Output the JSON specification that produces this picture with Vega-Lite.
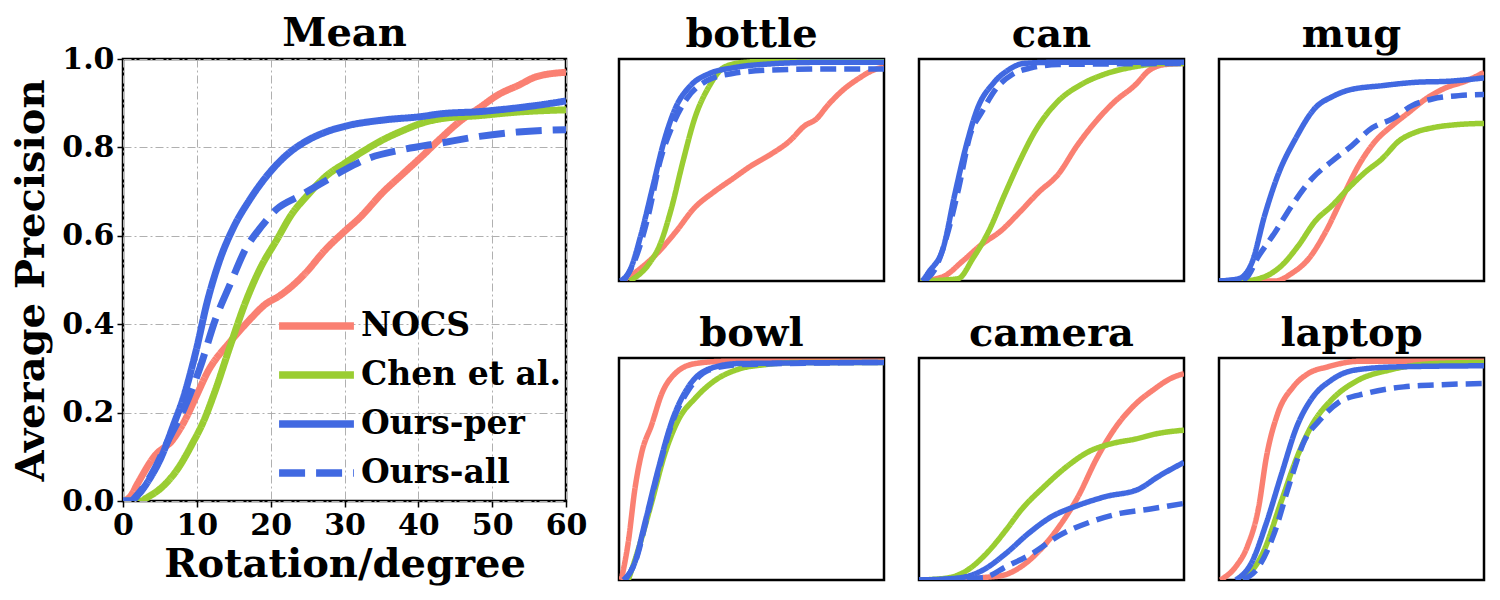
{
  "$schema": "https://vega.github.io/schema/vega-lite/v6.json",
  "padding": {"left": 10, "top": 12, "right": 5, "bottom": 2},
  "datasets": {
    "curves": [
      {"panel": "Mean", "method": "NOCS", "rotation": 0, "ap": 0},
      {"panel": "Mean", "method": "NOCS", "rotation": 1, "ap": 0.01},
      {"panel": "Mean", "method": "NOCS", "rotation": 2, "ap": 0.04},
      {"panel": "Mean", "method": "NOCS", "rotation": 4.2, "ap": 0.1},
      {"panel": "Mean", "method": "NOCS", "rotation": 6.8, "ap": 0.14},
      {"panel": "Mean", "method": "NOCS", "rotation": 8.3, "ap": 0.18},
      {"panel": "Mean", "method": "NOCS", "rotation": 10, "ap": 0.24},
      {"panel": "Mean", "method": "NOCS", "rotation": 11.4, "ap": 0.29},
      {"panel": "Mean", "method": "NOCS", "rotation": 14.5, "ap": 0.36},
      {"panel": "Mean", "method": "NOCS", "rotation": 16.6, "ap": 0.4},
      {"panel": "Mean", "method": "NOCS", "rotation": 19.7, "ap": 0.45},
      {"panel": "Mean", "method": "NOCS", "rotation": 20.8, "ap": 0.46},
      {"panel": "Mean", "method": "NOCS", "rotation": 24.4, "ap": 0.51},
      {"panel": "Mean", "method": "NOCS", "rotation": 27.5, "ap": 0.57},
      {"panel": "Mean", "method": "NOCS", "rotation": 30, "ap": 0.61},
      {"panel": "Mean", "method": "NOCS", "rotation": 32, "ap": 0.64},
      {"panel": "Mean", "method": "NOCS", "rotation": 35.3, "ap": 0.7},
      {"panel": "Mean", "method": "NOCS", "rotation": 37.9, "ap": 0.74},
      {"panel": "Mean", "method": "NOCS", "rotation": 40.5, "ap": 0.78},
      {"panel": "Mean", "method": "NOCS", "rotation": 43, "ap": 0.82},
      {"panel": "Mean", "method": "NOCS", "rotation": 45.7, "ap": 0.86},
      {"panel": "Mean", "method": "NOCS", "rotation": 48.3, "ap": 0.89},
      {"panel": "Mean", "method": "NOCS", "rotation": 50.9, "ap": 0.92},
      {"panel": "Mean", "method": "NOCS", "rotation": 53.5, "ap": 0.94},
      {"panel": "Mean", "method": "NOCS", "rotation": 56, "ap": 0.96},
      {"panel": "Mean", "method": "NOCS", "rotation": 60, "ap": 0.97},

      {"panel": "Mean", "method": "Chen et al.", "rotation": 0, "ap": 0},
      {"panel": "Mean", "method": "Chen et al.", "rotation": 2.5, "ap": 0},
      {"panel": "Mean", "method": "Chen et al.", "rotation": 3.1, "ap": 0.006},
      {"panel": "Mean", "method": "Chen et al.", "rotation": 5.2, "ap": 0.03},
      {"panel": "Mean", "method": "Chen et al.", "rotation": 7.3, "ap": 0.07},
      {"panel": "Mean", "method": "Chen et al.", "rotation": 9.4, "ap": 0.13},
      {"panel": "Mean", "method": "Chen et al.", "rotation": 10.9, "ap": 0.18},
      {"panel": "Mean", "method": "Chen et al.", "rotation": 12.5, "ap": 0.25},
      {"panel": "Mean", "method": "Chen et al.", "rotation": 14.5, "ap": 0.35},
      {"panel": "Mean", "method": "Chen et al.", "rotation": 16.6, "ap": 0.45},
      {"panel": "Mean", "method": "Chen et al.", "rotation": 18.7, "ap": 0.53},
      {"panel": "Mean", "method": "Chen et al.", "rotation": 20.8, "ap": 0.59},
      {"panel": "Mean", "method": "Chen et al.", "rotation": 22.9, "ap": 0.65},
      {"panel": "Mean", "method": "Chen et al.", "rotation": 24.9, "ap": 0.69},
      {"panel": "Mean", "method": "Chen et al.", "rotation": 27.5, "ap": 0.735},
      {"panel": "Mean", "method": "Chen et al.", "rotation": 30.1, "ap": 0.765},
      {"panel": "Mean", "method": "Chen et al.", "rotation": 32.7, "ap": 0.793},
      {"panel": "Mean", "method": "Chen et al.", "rotation": 35.3, "ap": 0.818},
      {"panel": "Mean", "method": "Chen et al.", "rotation": 37.9, "ap": 0.838},
      {"panel": "Mean", "method": "Chen et al.", "rotation": 40.5, "ap": 0.855},
      {"panel": "Mean", "method": "Chen et al.", "rotation": 43.1, "ap": 0.865},
      {"panel": "Mean", "method": "Chen et al.", "rotation": 48.3, "ap": 0.872},
      {"panel": "Mean", "method": "Chen et al.", "rotation": 53.5, "ap": 0.88},
      {"panel": "Mean", "method": "Chen et al.", "rotation": 60, "ap": 0.885},

      {"panel": "Mean", "method": "Ours-per", "rotation": 0, "ap": 0},
      {"panel": "Mean", "method": "Ours-per", "rotation": 1, "ap": 0},
      {"panel": "Mean", "method": "Ours-per", "rotation": 2.1, "ap": 0.015},
      {"panel": "Mean", "method": "Ours-per", "rotation": 3.6, "ap": 0.05},
      {"panel": "Mean", "method": "Ours-per", "rotation": 5.2, "ap": 0.1},
      {"panel": "Mean", "method": "Ours-per", "rotation": 6.8, "ap": 0.17},
      {"panel": "Mean", "method": "Ours-per", "rotation": 8.3, "ap": 0.24},
      {"panel": "Mean", "method": "Ours-per", "rotation": 9.9, "ap": 0.34},
      {"panel": "Mean", "method": "Ours-per", "rotation": 11.4, "ap": 0.45},
      {"panel": "Mean", "method": "Ours-per", "rotation": 13, "ap": 0.54},
      {"panel": "Mean", "method": "Ours-per", "rotation": 15, "ap": 0.62},
      {"panel": "Mean", "method": "Ours-per", "rotation": 17.1, "ap": 0.68},
      {"panel": "Mean", "method": "Ours-per", "rotation": 19.7, "ap": 0.74},
      {"panel": "Mean", "method": "Ours-per", "rotation": 22.3, "ap": 0.785},
      {"panel": "Mean", "method": "Ours-per", "rotation": 24.9, "ap": 0.815},
      {"panel": "Mean", "method": "Ours-per", "rotation": 27.5, "ap": 0.835},
      {"panel": "Mean", "method": "Ours-per", "rotation": 30.1, "ap": 0.848},
      {"panel": "Mean", "method": "Ours-per", "rotation": 35.3, "ap": 0.862},
      {"panel": "Mean", "method": "Ours-per", "rotation": 40.5, "ap": 0.87},
      {"panel": "Mean", "method": "Ours-per", "rotation": 43, "ap": 0.876},
      {"panel": "Mean", "method": "Ours-per", "rotation": 48.3, "ap": 0.881},
      {"panel": "Mean", "method": "Ours-per", "rotation": 50.9, "ap": 0.885},
      {"panel": "Mean", "method": "Ours-per", "rotation": 56, "ap": 0.895},
      {"panel": "Mean", "method": "Ours-per", "rotation": 60, "ap": 0.905},

      {"panel": "Mean", "method": "Ours-all", "rotation": 0, "ap": 0},
      {"panel": "Mean", "method": "Ours-all", "rotation": 1, "ap": 0},
      {"panel": "Mean", "method": "Ours-all", "rotation": 2, "ap": 0.015},
      {"panel": "Mean", "method": "Ours-all", "rotation": 4.2, "ap": 0.07},
      {"panel": "Mean", "method": "Ours-all", "rotation": 6.2, "ap": 0.14},
      {"panel": "Mean", "method": "Ours-all", "rotation": 8.3, "ap": 0.21},
      {"panel": "Mean", "method": "Ours-all", "rotation": 10.4, "ap": 0.3},
      {"panel": "Mean", "method": "Ours-all", "rotation": 12.5, "ap": 0.41},
      {"panel": "Mean", "method": "Ours-all", "rotation": 14.5, "ap": 0.49},
      {"panel": "Mean", "method": "Ours-all", "rotation": 16.6, "ap": 0.57},
      {"panel": "Mean", "method": "Ours-all", "rotation": 18.7, "ap": 0.62},
      {"panel": "Mean", "method": "Ours-all", "rotation": 20.8, "ap": 0.66},
      {"panel": "Mean", "method": "Ours-all", "rotation": 23.9, "ap": 0.69},
      {"panel": "Mean", "method": "Ours-all", "rotation": 27, "ap": 0.72},
      {"panel": "Mean", "method": "Ours-all", "rotation": 30.1, "ap": 0.75},
      {"panel": "Mean", "method": "Ours-all", "rotation": 33.2, "ap": 0.775},
      {"panel": "Mean", "method": "Ours-all", "rotation": 37.9, "ap": 0.795},
      {"panel": "Mean", "method": "Ours-all", "rotation": 43.1, "ap": 0.81},
      {"panel": "Mean", "method": "Ours-all", "rotation": 48.3, "ap": 0.825},
      {"panel": "Mean", "method": "Ours-all", "rotation": 53.5, "ap": 0.835},
      {"panel": "Mean", "method": "Ours-all", "rotation": 60, "ap": 0.84},

      {"panel": "bottle", "method": "NOCS", "rotation": 0.7, "ap": 0},
      {"panel": "bottle", "method": "NOCS", "rotation": 4.1, "ap": 0.045},
      {"panel": "bottle", "method": "NOCS", "rotation": 8.4, "ap": 0.12},
      {"panel": "bottle", "method": "NOCS", "rotation": 12.8, "ap": 0.22},
      {"panel": "bottle", "method": "NOCS", "rotation": 17.1, "ap": 0.33},
      {"panel": "bottle", "method": "NOCS", "rotation": 21.4, "ap": 0.4},
      {"panel": "bottle", "method": "NOCS", "rotation": 25.7, "ap": 0.46},
      {"panel": "bottle", "method": "NOCS", "rotation": 30, "ap": 0.52},
      {"panel": "bottle", "method": "NOCS", "rotation": 34.3, "ap": 0.57},
      {"panel": "bottle", "method": "NOCS", "rotation": 38.6, "ap": 0.63},
      {"panel": "bottle", "method": "NOCS", "rotation": 42.1, "ap": 0.7},
      {"panel": "bottle", "method": "NOCS", "rotation": 44.7, "ap": 0.73},
      {"panel": "bottle", "method": "NOCS", "rotation": 47.2, "ap": 0.79},
      {"panel": "bottle", "method": "NOCS", "rotation": 50.7, "ap": 0.86},
      {"panel": "bottle", "method": "NOCS", "rotation": 54.1, "ap": 0.91},
      {"panel": "bottle", "method": "NOCS", "rotation": 57.6, "ap": 0.95},
      {"panel": "bottle", "method": "NOCS", "rotation": 60, "ap": 0.965},

      {"panel": "bottle", "method": "Chen et al.", "rotation": 2.4, "ap": 0},
      {"panel": "bottle", "method": "Chen et al.", "rotation": 6.7, "ap": 0.075},
      {"panel": "bottle", "method": "Chen et al.", "rotation": 9.3, "ap": 0.165},
      {"panel": "bottle", "method": "Chen et al.", "rotation": 11.9, "ap": 0.33},
      {"panel": "bottle", "method": "Chen et al.", "rotation": 14.5, "ap": 0.54},
      {"panel": "bottle", "method": "Chen et al.", "rotation": 17.1, "ap": 0.73},
      {"panel": "bottle", "method": "Chen et al.", "rotation": 20.5, "ap": 0.88},
      {"panel": "bottle", "method": "Chen et al.", "rotation": 24, "ap": 0.965},
      {"panel": "bottle", "method": "Chen et al.", "rotation": 28.3, "ap": 0.985},
      {"panel": "bottle", "method": "Chen et al.", "rotation": 34, "ap": 0.99},
      {"panel": "bottle", "method": "Chen et al.", "rotation": 60, "ap": 0.99},

      {"panel": "bottle", "method": "Ours-per", "rotation": 0.3, "ap": 0},
      {"panel": "bottle", "method": "Ours-per", "rotation": 2.4, "ap": 0.045},
      {"panel": "bottle", "method": "Ours-per", "rotation": 5, "ap": 0.21},
      {"panel": "bottle", "method": "Ours-per", "rotation": 7.6, "ap": 0.42},
      {"panel": "bottle", "method": "Ours-per", "rotation": 10.2, "ap": 0.63},
      {"panel": "bottle", "method": "Ours-per", "rotation": 12.8, "ap": 0.78},
      {"panel": "bottle", "method": "Ours-per", "rotation": 16.2, "ap": 0.88},
      {"panel": "bottle", "method": "Ours-per", "rotation": 20.5, "ap": 0.935},
      {"panel": "bottle", "method": "Ours-per", "rotation": 25.7, "ap": 0.96},
      {"panel": "bottle", "method": "Ours-per", "rotation": 34.3, "ap": 0.978},
      {"panel": "bottle", "method": "Ours-per", "rotation": 45, "ap": 0.985},
      {"panel": "bottle", "method": "Ours-per", "rotation": 60, "ap": 0.985},

      {"panel": "bottle", "method": "Ours-all", "rotation": 1.1, "ap": 0},
      {"panel": "bottle", "method": "Ours-all", "rotation": 4.1, "ap": 0.12},
      {"panel": "bottle", "method": "Ours-all", "rotation": 6.7, "ap": 0.3},
      {"panel": "bottle", "method": "Ours-all", "rotation": 9.3, "ap": 0.54},
      {"panel": "bottle", "method": "Ours-all", "rotation": 11.9, "ap": 0.69},
      {"panel": "bottle", "method": "Ours-all", "rotation": 15.3, "ap": 0.82},
      {"panel": "bottle", "method": "Ours-all", "rotation": 19.7, "ap": 0.9},
      {"panel": "bottle", "method": "Ours-all", "rotation": 25.7, "ap": 0.935},
      {"panel": "bottle", "method": "Ours-all", "rotation": 34.3, "ap": 0.95},
      {"panel": "bottle", "method": "Ours-all", "rotation": 47.2, "ap": 0.955},
      {"panel": "bottle", "method": "Ours-all", "rotation": 60, "ap": 0.955},

      {"panel": "can", "method": "NOCS", "rotation": 0.3, "ap": 0},
      {"panel": "can", "method": "NOCS", "rotation": 5.5, "ap": 0.02},
      {"panel": "can", "method": "NOCS", "rotation": 9.9, "ap": 0.09},
      {"panel": "can", "method": "NOCS", "rotation": 14.2, "ap": 0.165},
      {"panel": "can", "method": "NOCS", "rotation": 18.5, "ap": 0.225},
      {"panel": "can", "method": "NOCS", "rotation": 22.8, "ap": 0.31},
      {"panel": "can", "method": "NOCS", "rotation": 27.1, "ap": 0.4},
      {"panel": "can", "method": "NOCS", "rotation": 31.5, "ap": 0.48},
      {"panel": "can", "method": "NOCS", "rotation": 35.8, "ap": 0.61},
      {"panel": "can", "method": "NOCS", "rotation": 40.1, "ap": 0.72},
      {"panel": "can", "method": "NOCS", "rotation": 44.4, "ap": 0.81},
      {"panel": "can", "method": "NOCS", "rotation": 48.8, "ap": 0.88},
      {"panel": "can", "method": "NOCS", "rotation": 52.2, "ap": 0.95},
      {"panel": "can", "method": "NOCS", "rotation": 55.7, "ap": 0.975},
      {"panel": "can", "method": "NOCS", "rotation": 60, "ap": 0.98},

      {"panel": "can", "method": "Chen et al.", "rotation": 0.3, "ap": 0},
      {"panel": "can", "method": "Chen et al.", "rotation": 8.8, "ap": 0.01},
      {"panel": "can", "method": "Chen et al.", "rotation": 12.3, "ap": 0.105},
      {"panel": "can", "method": "Chen et al.", "rotation": 15.8, "ap": 0.225},
      {"panel": "can", "method": "Chen et al.", "rotation": 19.4, "ap": 0.39},
      {"panel": "can", "method": "Chen et al.", "rotation": 22.8, "ap": 0.54},
      {"panel": "can", "method": "Chen et al.", "rotation": 26.3, "ap": 0.675},
      {"panel": "can", "method": "Chen et al.", "rotation": 31.5, "ap": 0.81},
      {"panel": "can", "method": "Chen et al.", "rotation": 36.7, "ap": 0.885},
      {"panel": "can", "method": "Chen et al.", "rotation": 41.8, "ap": 0.93},
      {"panel": "can", "method": "Chen et al.", "rotation": 48.8, "ap": 0.965},
      {"panel": "can", "method": "Chen et al.", "rotation": 55.5, "ap": 0.98},
      {"panel": "can", "method": "Chen et al.", "rotation": 60, "ap": 0.98},

      {"panel": "can", "method": "Ours-per", "rotation": 0.8, "ap": 0},
      {"panel": "can", "method": "Ours-per", "rotation": 2.2, "ap": 0.04},
      {"panel": "can", "method": "Ours-per", "rotation": 5.5, "ap": 0.15},
      {"panel": "can", "method": "Ours-per", "rotation": 8.1, "ap": 0.39},
      {"panel": "can", "method": "Ours-per", "rotation": 10.7, "ap": 0.61},
      {"panel": "can", "method": "Ours-per", "rotation": 13.3, "ap": 0.78},
      {"panel": "can", "method": "Ours-per", "rotation": 16.8, "ap": 0.89},
      {"panel": "can", "method": "Ours-per", "rotation": 20.2, "ap": 0.95},
      {"panel": "can", "method": "Ours-per", "rotation": 23.7, "ap": 0.98},
      {"panel": "can", "method": "Ours-per", "rotation": 30, "ap": 0.985},
      {"panel": "can", "method": "Ours-per", "rotation": 60, "ap": 0.985},

      {"panel": "can", "method": "Ours-all", "rotation": 1.2, "ap": 0},
      {"panel": "can", "method": "Ours-all", "rotation": 3.8, "ap": 0.06},
      {"panel": "can", "method": "Ours-all", "rotation": 6.4, "ap": 0.21},
      {"panel": "can", "method": "Ours-all", "rotation": 9, "ap": 0.42},
      {"panel": "can", "method": "Ours-all", "rotation": 11.6, "ap": 0.66},
      {"panel": "can", "method": "Ours-all", "rotation": 14.2, "ap": 0.76},
      {"panel": "can", "method": "Ours-all", "rotation": 17.6, "ap": 0.87},
      {"panel": "can", "method": "Ours-all", "rotation": 21.1, "ap": 0.93},
      {"panel": "can", "method": "Ours-all", "rotation": 25.4, "ap": 0.96},
      {"panel": "can", "method": "Ours-all", "rotation": 31.5, "ap": 0.975},
      {"panel": "can", "method": "Ours-all", "rotation": 60, "ap": 0.98},

      {"panel": "mug", "method": "NOCS", "rotation": 0, "ap": 0},
      {"panel": "mug", "method": "NOCS", "rotation": 12.7, "ap": 0},
      {"panel": "mug", "method": "NOCS", "rotation": 16.5, "ap": 0.035},
      {"panel": "mug", "method": "NOCS", "rotation": 20.3, "ap": 0.1},
      {"panel": "mug", "method": "NOCS", "rotation": 24.1, "ap": 0.22},
      {"panel": "mug", "method": "NOCS", "rotation": 27.8, "ap": 0.37},
      {"panel": "mug", "method": "NOCS", "rotation": 31.6, "ap": 0.52},
      {"panel": "mug", "method": "NOCS", "rotation": 35.4, "ap": 0.63},
      {"panel": "mug", "method": "NOCS", "rotation": 39.2, "ap": 0.7},
      {"panel": "mug", "method": "NOCS", "rotation": 43, "ap": 0.76},
      {"panel": "mug", "method": "NOCS", "rotation": 46.8, "ap": 0.82},
      {"panel": "mug", "method": "NOCS", "rotation": 51.3, "ap": 0.87},
      {"panel": "mug", "method": "NOCS", "rotation": 55.8, "ap": 0.9},
      {"panel": "mug", "method": "NOCS", "rotation": 60, "ap": 0.94},

      {"panel": "mug", "method": "Chen et al.", "rotation": 0, "ap": 0},
      {"panel": "mug", "method": "Chen et al.", "rotation": 5.1, "ap": 0},
      {"panel": "mug", "method": "Chen et al.", "rotation": 10.4, "ap": 0.02},
      {"panel": "mug", "method": "Chen et al.", "rotation": 14.2, "ap": 0.07},
      {"panel": "mug", "method": "Chen et al.", "rotation": 18, "ap": 0.16},
      {"panel": "mug", "method": "Chen et al.", "rotation": 21.8, "ap": 0.27},
      {"panel": "mug", "method": "Chen et al.", "rotation": 25.6, "ap": 0.34},
      {"panel": "mug", "method": "Chen et al.", "rotation": 29.4, "ap": 0.42},
      {"panel": "mug", "method": "Chen et al.", "rotation": 33.1, "ap": 0.49},
      {"panel": "mug", "method": "Chen et al.", "rotation": 36.9, "ap": 0.55},
      {"panel": "mug", "method": "Chen et al.", "rotation": 40.7, "ap": 0.63},
      {"panel": "mug", "method": "Chen et al.", "rotation": 44.5, "ap": 0.67},
      {"panel": "mug", "method": "Chen et al.", "rotation": 48.3, "ap": 0.69},
      {"panel": "mug", "method": "Chen et al.", "rotation": 54.3, "ap": 0.705},
      {"panel": "mug", "method": "Chen et al.", "rotation": 60, "ap": 0.71},

      {"panel": "mug", "method": "Ours-per", "rotation": 0, "ap": 0},
      {"panel": "mug", "method": "Ours-per", "rotation": 4.4, "ap": 0.01},
      {"panel": "mug", "method": "Ours-per", "rotation": 7.4, "ap": 0.08},
      {"panel": "mug", "method": "Ours-per", "rotation": 10.4, "ap": 0.3},
      {"panel": "mug", "method": "Ours-per", "rotation": 13.4, "ap": 0.48},
      {"panel": "mug", "method": "Ours-per", "rotation": 17.3, "ap": 0.64},
      {"panel": "mug", "method": "Ours-per", "rotation": 21.8, "ap": 0.78},
      {"panel": "mug", "method": "Ours-per", "rotation": 25.6, "ap": 0.83},
      {"panel": "mug", "method": "Ours-per", "rotation": 29.4, "ap": 0.86},
      {"panel": "mug", "method": "Ours-per", "rotation": 37, "ap": 0.88},
      {"panel": "mug", "method": "Ours-per", "rotation": 44.5, "ap": 0.895},
      {"panel": "mug", "method": "Ours-per", "rotation": 52.1, "ap": 0.9},
      {"panel": "mug", "method": "Ours-per", "rotation": 60, "ap": 0.915},

      {"panel": "mug", "method": "Ours-all", "rotation": 0, "ap": 0},
      {"panel": "mug", "method": "Ours-all", "rotation": 5.9, "ap": 0.01},
      {"panel": "mug", "method": "Ours-all", "rotation": 8.9, "ap": 0.11},
      {"panel": "mug", "method": "Ours-all", "rotation": 12.7, "ap": 0.22},
      {"panel": "mug", "method": "Ours-all", "rotation": 16.5, "ap": 0.34},
      {"panel": "mug", "method": "Ours-all", "rotation": 21, "ap": 0.46},
      {"panel": "mug", "method": "Ours-all", "rotation": 25.6, "ap": 0.54},
      {"panel": "mug", "method": "Ours-all", "rotation": 30.1, "ap": 0.61},
      {"panel": "mug", "method": "Ours-all", "rotation": 34.7, "ap": 0.69},
      {"panel": "mug", "method": "Ours-all", "rotation": 39.2, "ap": 0.73},
      {"panel": "mug", "method": "Ours-all", "rotation": 43.7, "ap": 0.79},
      {"panel": "mug", "method": "Ours-all", "rotation": 48.3, "ap": 0.82},
      {"panel": "mug", "method": "Ours-all", "rotation": 54.3, "ap": 0.835},
      {"panel": "mug", "method": "Ours-all", "rotation": 60, "ap": 0.84},

      {"panel": "bowl", "method": "NOCS", "rotation": 0.5, "ap": 0},
      {"panel": "bowl", "method": "NOCS", "rotation": 2.1, "ap": 0.17},
      {"panel": "bowl", "method": "NOCS", "rotation": 3.6, "ap": 0.41},
      {"panel": "bowl", "method": "NOCS", "rotation": 5.1, "ap": 0.57},
      {"panel": "bowl", "method": "NOCS", "rotation": 7.4, "ap": 0.7},
      {"panel": "bowl", "method": "NOCS", "rotation": 9.7, "ap": 0.84},
      {"panel": "bowl", "method": "NOCS", "rotation": 12.7, "ap": 0.93},
      {"panel": "bowl", "method": "NOCS", "rotation": 17.3, "ap": 0.975},
      {"panel": "bowl", "method": "NOCS", "rotation": 24, "ap": 0.985},
      {"panel": "bowl", "method": "NOCS", "rotation": 60, "ap": 0.985},

      {"panel": "bowl", "method": "Chen et al.", "rotation": 2.1, "ap": 0},
      {"panel": "bowl", "method": "Chen et al.", "rotation": 4.4, "ap": 0.14},
      {"panel": "bowl", "method": "Chen et al.", "rotation": 7.4, "ap": 0.35},
      {"panel": "bowl", "method": "Chen et al.", "rotation": 10.4, "ap": 0.57},
      {"panel": "bowl", "method": "Chen et al.", "rotation": 13.4, "ap": 0.72},
      {"panel": "bowl", "method": "Chen et al.", "rotation": 17.3, "ap": 0.82},
      {"panel": "bowl", "method": "Chen et al.", "rotation": 21.8, "ap": 0.9},
      {"panel": "bowl", "method": "Chen et al.", "rotation": 27.1, "ap": 0.95},
      {"panel": "bowl", "method": "Chen et al.", "rotation": 33.1, "ap": 0.97},
      {"panel": "bowl", "method": "Chen et al.", "rotation": 40.6, "ap": 0.98},
      {"panel": "bowl", "method": "Chen et al.", "rotation": 60, "ap": 0.98},

      {"panel": "bowl", "method": "Ours-per", "rotation": 1, "ap": 0},
      {"panel": "bowl", "method": "Ours-per", "rotation": 3.6, "ap": 0.08},
      {"panel": "bowl", "method": "Ours-per", "rotation": 5.9, "ap": 0.26},
      {"panel": "bowl", "method": "Ours-per", "rotation": 8.9, "ap": 0.5},
      {"panel": "bowl", "method": "Ours-per", "rotation": 11.9, "ap": 0.71},
      {"panel": "bowl", "method": "Ours-per", "rotation": 15.7, "ap": 0.87},
      {"panel": "bowl", "method": "Ours-per", "rotation": 20.3, "ap": 0.95},
      {"panel": "bowl", "method": "Ours-per", "rotation": 27.1, "ap": 0.975},
      {"panel": "bowl", "method": "Ours-per", "rotation": 60, "ap": 0.98},

      {"panel": "bowl", "method": "Ours-all", "rotation": 1.4, "ap": 0},
      {"panel": "bowl", "method": "Ours-all", "rotation": 4, "ap": 0.1},
      {"panel": "bowl", "method": "Ours-all", "rotation": 6.3, "ap": 0.28},
      {"panel": "bowl", "method": "Ours-all", "rotation": 8.9, "ap": 0.49},
      {"panel": "bowl", "method": "Ours-all", "rotation": 11.9, "ap": 0.7},
      {"panel": "bowl", "method": "Ours-all", "rotation": 15.7, "ap": 0.855},
      {"panel": "bowl", "method": "Ours-all", "rotation": 20.3, "ap": 0.945},
      {"panel": "bowl", "method": "Ours-all", "rotation": 27.1, "ap": 0.97},
      {"panel": "bowl", "method": "Ours-all", "rotation": 60, "ap": 0.98},

      {"panel": "camera", "method": "NOCS", "rotation": 0, "ap": 0},
      {"panel": "camera", "method": "NOCS", "rotation": 12, "ap": 0.005},
      {"panel": "camera", "method": "NOCS", "rotation": 14, "ap": 0.01},
      {"panel": "camera", "method": "NOCS", "rotation": 18.8, "ap": 0.02},
      {"panel": "camera", "method": "NOCS", "rotation": 23.1, "ap": 0.06},
      {"panel": "camera", "method": "NOCS", "rotation": 27.4, "ap": 0.135},
      {"panel": "camera", "method": "NOCS", "rotation": 31.7, "ap": 0.24},
      {"panel": "camera", "method": "NOCS", "rotation": 36, "ap": 0.375},
      {"panel": "camera", "method": "NOCS", "rotation": 40.3, "ap": 0.55},
      {"panel": "camera", "method": "NOCS", "rotation": 44.6, "ap": 0.69},
      {"panel": "camera", "method": "NOCS", "rotation": 48.9, "ap": 0.79},
      {"panel": "camera", "method": "NOCS", "rotation": 53.3, "ap": 0.86},
      {"panel": "camera", "method": "NOCS", "rotation": 56.7, "ap": 0.905},
      {"panel": "camera", "method": "NOCS", "rotation": 60, "ap": 0.93},

      {"panel": "camera", "method": "Chen et al.", "rotation": 0, "ap": 0},
      {"panel": "camera", "method": "Chen et al.", "rotation": 6.7, "ap": 0.01},
      {"panel": "camera", "method": "Chen et al.", "rotation": 11, "ap": 0.045},
      {"panel": "camera", "method": "Chen et al.", "rotation": 15.3, "ap": 0.12},
      {"panel": "camera", "method": "Chen et al.", "rotation": 19.7, "ap": 0.225},
      {"panel": "camera", "method": "Chen et al.", "rotation": 23.1, "ap": 0.315},
      {"panel": "camera", "method": "Chen et al.", "rotation": 28.3, "ap": 0.42},
      {"panel": "camera", "method": "Chen et al.", "rotation": 33.4, "ap": 0.51},
      {"panel": "camera", "method": "Chen et al.", "rotation": 38.6, "ap": 0.58},
      {"panel": "camera", "method": "Chen et al.", "rotation": 43.8, "ap": 0.615},
      {"panel": "camera", "method": "Chen et al.", "rotation": 49, "ap": 0.635},
      {"panel": "camera", "method": "Chen et al.", "rotation": 54.1, "ap": 0.66},
      {"panel": "camera", "method": "Chen et al.", "rotation": 60, "ap": 0.675},

      {"panel": "camera", "method": "Ours-per", "rotation": 0, "ap": 0},
      {"panel": "camera", "method": "Ours-per", "rotation": 9.3, "ap": 0.01},
      {"panel": "camera", "method": "Ours-per", "rotation": 14.5, "ap": 0.045},
      {"panel": "camera", "method": "Ours-per", "rotation": 19.7, "ap": 0.12},
      {"panel": "camera", "method": "Ours-per", "rotation": 24.8, "ap": 0.21},
      {"panel": "camera", "method": "Ours-per", "rotation": 30, "ap": 0.285},
      {"panel": "camera", "method": "Ours-per", "rotation": 35.2, "ap": 0.33},
      {"panel": "camera", "method": "Ours-per", "rotation": 42.1, "ap": 0.375},
      {"panel": "camera", "method": "Ours-per", "rotation": 49.8, "ap": 0.41},
      {"panel": "camera", "method": "Ours-per", "rotation": 54.1, "ap": 0.465},
      {"panel": "camera", "method": "Ours-per", "rotation": 60, "ap": 0.53},

      {"panel": "camera", "method": "Ours-all", "rotation": 0, "ap": 0},
      {"panel": "camera", "method": "Ours-all", "rotation": 14.5, "ap": 0.01},
      {"panel": "camera", "method": "Ours-all", "rotation": 19.7, "ap": 0.06},
      {"panel": "camera", "method": "Ours-all", "rotation": 25.7, "ap": 0.12},
      {"panel": "camera", "method": "Ours-all", "rotation": 31.7, "ap": 0.2},
      {"panel": "camera", "method": "Ours-all", "rotation": 38.6, "ap": 0.26},
      {"panel": "camera", "method": "Ours-all", "rotation": 45.5, "ap": 0.3},
      {"panel": "camera", "method": "Ours-all", "rotation": 52.4, "ap": 0.32},
      {"panel": "camera", "method": "Ours-all", "rotation": 60, "ap": 0.345},

      {"panel": "laptop", "method": "NOCS", "rotation": 0.3, "ap": 0},
      {"panel": "laptop", "method": "NOCS", "rotation": 3.8, "ap": 0.06},
      {"panel": "laptop", "method": "NOCS", "rotation": 6.4, "ap": 0.15},
      {"panel": "laptop", "method": "NOCS", "rotation": 9, "ap": 0.33},
      {"panel": "laptop", "method": "NOCS", "rotation": 10.7, "ap": 0.55},
      {"panel": "laptop", "method": "NOCS", "rotation": 13.3, "ap": 0.75},
      {"panel": "laptop", "method": "NOCS", "rotation": 16.8, "ap": 0.87},
      {"panel": "laptop", "method": "NOCS", "rotation": 20.2, "ap": 0.93},
      {"panel": "laptop", "method": "NOCS", "rotation": 24.6, "ap": 0.96},
      {"panel": "laptop", "method": "NOCS", "rotation": 31.5, "ap": 0.985},
      {"panel": "laptop", "method": "NOCS", "rotation": 60, "ap": 0.985},

      {"panel": "laptop", "method": "Chen et al.", "rotation": 5.5, "ap": 0},
      {"panel": "laptop", "method": "Chen et al.", "rotation": 9.9, "ap": 0.12},
      {"panel": "laptop", "method": "Chen et al.", "rotation": 14.2, "ap": 0.36},
      {"panel": "laptop", "method": "Chen et al.", "rotation": 17.6, "ap": 0.55},
      {"panel": "laptop", "method": "Chen et al.", "rotation": 21.1, "ap": 0.7},
      {"panel": "laptop", "method": "Chen et al.", "rotation": 25.4, "ap": 0.81},
      {"panel": "laptop", "method": "Chen et al.", "rotation": 31.5, "ap": 0.9},
      {"panel": "laptop", "method": "Chen et al.", "rotation": 38.4, "ap": 0.945},
      {"panel": "laptop", "method": "Chen et al.", "rotation": 48.8, "ap": 0.975},
      {"panel": "laptop", "method": "Chen et al.", "rotation": 60, "ap": 0.98},

      {"panel": "laptop", "method": "Ours-per", "rotation": 3.8, "ap": 0},
      {"panel": "laptop", "method": "Ours-per", "rotation": 7.3, "ap": 0.075},
      {"panel": "laptop", "method": "Ours-per", "rotation": 10.7, "ap": 0.255},
      {"panel": "laptop", "method": "Ours-per", "rotation": 14.2, "ap": 0.48},
      {"panel": "laptop", "method": "Ours-per", "rotation": 17.6, "ap": 0.69},
      {"panel": "laptop", "method": "Ours-per", "rotation": 21.1, "ap": 0.82},
      {"panel": "laptop", "method": "Ours-per", "rotation": 25.4, "ap": 0.9},
      {"panel": "laptop", "method": "Ours-per", "rotation": 30.6, "ap": 0.945},
      {"panel": "laptop", "method": "Ours-per", "rotation": 40.1, "ap": 0.96},
      {"panel": "laptop", "method": "Ours-per", "rotation": 60, "ap": 0.965},

      {"panel": "laptop", "method": "Ours-all", "rotation": 5.5, "ap": 0},
      {"panel": "laptop", "method": "Ours-all", "rotation": 9, "ap": 0.06},
      {"panel": "laptop", "method": "Ours-all", "rotation": 12.5, "ap": 0.21},
      {"panel": "laptop", "method": "Ours-all", "rotation": 15.9, "ap": 0.43},
      {"panel": "laptop", "method": "Ours-all", "rotation": 19.4, "ap": 0.63},
      {"panel": "laptop", "method": "Ours-all", "rotation": 22.8, "ap": 0.72},
      {"panel": "laptop", "method": "Ours-all", "rotation": 27.1, "ap": 0.8},
      {"panel": "laptop", "method": "Ours-all", "rotation": 33.2, "ap": 0.84},
      {"panel": "laptop", "method": "Ours-all", "rotation": 41.8, "ap": 0.87},
      {"panel": "laptop", "method": "Ours-all", "rotation": 50.5, "ap": 0.88},
      {"panel": "laptop", "method": "Ours-all", "rotation": 60, "ap": 0.885}
    ]
  },
  "data": {"name": "curves"},
  "hconcat": [
    {
      "title": {"text": "Mean", "fontSize": 40, "offset": -10},
      "width": 443,
      "height": 442,
      "transform": [{"filter": "datum.panel === 'Mean'"}],
      "mark": {"type": "line", "strokeWidth": 7, "interpolate": "monotone", "clip": true},
      "encoding": {
        "x": {
          "field": "rotation", "type": "quantitative",
          "scale": {"domain": [0, 60], "nice": false},
          "axis": {"values": [0, 10, 20, 30, 40, 50, 60], "title": "Rotation/degree", "grid": true, "titlePadding": 4, "labelFlush": false}
        },
        "y": {
          "field": "ap", "type": "quantitative",
          "scale": {"domain": [0, 1], "nice": false},
          "axis": {"values": [0, 0.2, 0.4, 0.6, 0.8, 1.0], "format": ".1f", "title": "Average Precision", "grid": true, "titlePadding": 10, "labelFlush": false}
        },
        "color": {
          "field": "method", "type": "nominal",
          "scale": {"domain": ["NOCS", "Chen et al.", "Ours-per", "Ours-all"], "range": ["#fa8072", "#9acd32", "#4169e1", "#4169e1"]},
          "legend": {"title": null, "orient": "none", "legendX": 152, "legendY": 245}
        },
        "strokeDash": {
          "field": "method", "type": "nominal",
          "scale": {"domain": ["NOCS", "Chen et al.", "Ours-per", "Ours-all"], "range": [[1, 0], [1, 0], [1, 0], [26, 11]]},
          "legend": {"title": null, "orient": "none", "legendX": 152, "legendY": 245}
        }
      }
    },
    {
      "transform": [{"filter": "datum.panel !== 'Mean'"}],
      "columns": 3,
      "spacing": {"row": 29, "column": 31},
      "facet": {
        "field": "panel", "type": "nominal",
        "sort": ["bottle", "can", "mug", "bowl", "camera", "laptop"],
        "header": {"title": null, "labelFontSize": 40, "labelFont": "DejaVu Serif", "labelFontWeight": "bold", "labelColor": "black", "labelPadding": 4}
      },
      "spec": {
        "width": 265,
        "height": 222,
        "mark": {"type": "line", "strokeWidth": 5.5, "interpolate": "monotone", "clip": true},
        "encoding": {
          "x": {"field": "rotation", "type": "quantitative", "scale": {"domain": [0, 60], "nice": false}, "axis": null},
          "y": {"field": "ap", "type": "quantitative", "scale": {"domain": [0, 1], "nice": false}, "axis": null},
          "color": {
            "field": "method", "type": "nominal",
            "scale": {"domain": ["NOCS", "Chen et al.", "Ours-per", "Ours-all"], "range": ["#fa8072", "#9acd32", "#4169e1", "#4169e1"]},
            "legend": null
          },
          "strokeDash": {
            "field": "method", "type": "nominal",
            "scale": {"domain": ["NOCS", "Chen et al.", "Ours-per", "Ours-all"], "range": [[1, 0], [1, 0], [1, 0], [16, 8]]},
            "legend": null
          }
        }
      }
    }
  ],
  "spacing": 28,
  "resolve": {
    "scale": {"color": "independent", "strokeDash": "independent"},
    "legend": {"color": "independent", "strokeDash": "independent"}
  },
  "config": {
    "font": "DejaVu Serif",
    "view": {"stroke": "black", "strokeWidth": 2.5},
    "title": {"font": "DejaVu Serif", "fontWeight": "bold", "color": "black"},
    "axis": {
      "labelFont": "DejaVu Serif", "labelFontWeight": "bold", "labelFontSize": 30, "labelColor": "black",
      "titleFont": "DejaVu Serif", "titleFontWeight": "bold", "titleFontSize": 40, "titleColor": "black",
      "domain": false, "tickColor": "black", "tickSize": 6, "tickWidth": 1.5, "labelPadding": 3,
      "gridColor": "#b0b0b0", "gridDash": [8, 3, 2, 3], "gridWidth": 1
    },
    "legend": {
      "symbolType": "stroke", "symbolSize": 5600, "symbolStrokeWidth": 7.5, "clipHeight": 44, "rowPadding": 5,
      "labelFont": "DejaVu Serif", "labelFontSize": 33, "labelFontWeight": "bold", "labelColor": "black",
      "labelOffset": 3, "labelLimit": 400
    }
  }
}
